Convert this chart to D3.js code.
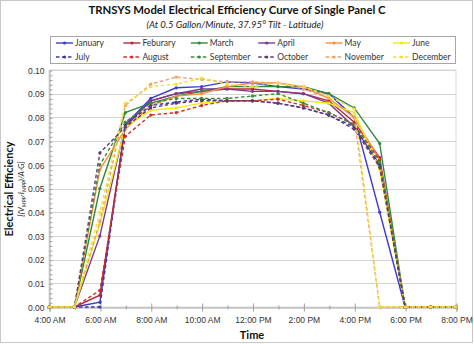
<!DOCTYPE html>
<html>
<head>
<meta charset="utf-8">
<script src="https://cdn.jsdelivr.net/npm/d3@7"></script>
<style>
  body { margin: 0; background: #fff; }
  svg { font-family: Lato, "Liberation Sans", sans-serif; }
</style>
</head>
<body>
<svg id="chart" width="474" height="344"></svg>
<script>
// hours of day, 4 AM .. 8 PM
const hours = [4, 5, 6, 7, 8, 9, 10, 11, 12, 13, 14, 15, 16, 17, 18, 19, 20];
const xTickHours = [4, 6, 8, 10, 12, 14, 16, 18, 20];
const xTickLabels = ["4:00 AM", "6:00 AM", "8:00 AM", "10:00 AM", "12:00 PM", "2:00 PM", "4:00 PM", "6:00 PM", "8:00 PM"];
const yTicks = [0, 0.01, 0.02, 0.03, 0.04, 0.05, 0.06, 0.07, 0.08, 0.09, 0.1];

const months = ["January", "Feburary", "March", "April", "May", "June",
  "July", "August", "September", "October", "November", "December"];

const january   = [0, 0, 0.002, 0.077, 0.088, 0.0925, 0.093, 0.095, 0.0945, 0.093, 0.092, 0.090, 0.080, 0.040, 0, 0, 0];
const feburary  = [0, 0, 0.005, 0.076, 0.087, 0.090, 0.091, 0.092, 0.092, 0.091, 0.090, 0.087, 0.078, 0.063, 0, 0, 0];
const march     = [0, 0, 0.050, 0.082, 0.086, 0.089, 0.091, 0.093, 0.093, 0.093, 0.093, 0.090, 0.084, 0.069, 0, 0, 0];
const april     = [0, 0, 0.030, 0.077, 0.087, 0.090, 0.092, 0.092, 0.091, 0.091, 0.090, 0.086, 0.076, 0.060, 0, 0, 0];
const may       = [0, 0, 0.058, 0.075, 0.085, 0.089, 0.090, 0.093, 0.0945, 0.0945, 0.093, 0.088, 0.080, 0.062, 0, 0, 0];
const june      = [0, 0, 0.035, 0.076, 0.083, 0.084, 0.086, 0.087, 0.087, 0.088, 0.087, 0.086, 0.082, 0.058, 0, 0, 0];
const july      = [0, 0, 0, 0.077, 0.085, 0.0865, 0.0877, 0.087, 0.087, 0.086, 0.084, 0.081, 0.076, 0.060, 0, 0, 0];
const august    = [0, 0, 0.007, 0.072, 0.081, 0.082, 0.085, 0.087, 0.087, 0.0877, 0.085, 0.082, 0.077, 0.062, 0, 0, 0];
const september = [0, 0, 0.060, 0.078, 0.086, 0.088, 0.088, 0.088, 0.089, 0.090, 0.086, 0.082, 0.077, 0.061, 0, 0, 0];
const october   = [0, 0, 0.065, 0.076, 0.084, 0.086, 0.087, 0.087, 0.087, 0.086, 0.084, 0.081, 0.075, 0.059, 0, 0, 0];
const november  = [0, 0, 0.036, 0.085, 0.094, 0.097, 0.096, 0.095, 0.095, 0.0945, 0.092, 0.088, 0.080, 0, 0, 0, 0];
const december  = [0, 0, 0.040, 0.086, 0.093, 0.094, 0.0966, 0.094, 0.093, 0.0945, 0.093, 0.089, 0.0835, 0, 0, 0, 0];

const values = [january, feburary, march, april, may, june,
  july, august, september, october, november, december];
const colors = ["#3b3bd0", "#b8283c", "#2e8b3e", "#7a3a94", "#f39040", "#f2ea10",
  "#3a3aa8", "#cc3030", "#3d8a3d", "#5e3a6e", "#f0a060", "#f0e040"];

const svg = d3.select("#chart");

// outer frame
svg.append("rect").attr("x", 0.5).attr("y", 0.5).attr("width", 472).attr("height", 342)
  .attr("fill", "#fff").attr("stroke", "#c8c8c8");

const x = d3.scaleLinear().domain([4, 20]).range([49, 456]);
const y = d3.scaleLinear().domain([0, 0.1]).range([307, 70]);

// plot area frame + grid
svg.append("rect").attr("x", 49).attr("y", 70).attr("width", 407).attr("height", 237)
  .attr("fill", "none").attr("stroke", "#d9d9d9");
svg.append("g").selectAll("line").data(yTicks.slice(1)).join("line")
  .attr("x1", 49).attr("x2", 456)
  .attr("y1", d => Math.round(y(d)) + 0.5).attr("y2", d => Math.round(y(d)) + 0.5)
  .attr("stroke", "#d4d4d4");

// y axis
const yAxis = svg.append("g").attr("transform", "translate(49.5,0.5)")
  .call(d3.axisLeft(y).tickValues(yTicks).tickFormat(d3.format(".2f")).tickSize(0).tickPadding(5));
yAxis.select(".domain").attr("stroke", "#a0a0a0");
yAxis.selectAll("text").attr("font-size", 8.5).attr("fill", "#333");
svg.append("g").attr("transform", "translate(49.5,0.5)")
  .call(d3.axisRight(y).tickValues(d3.range(0, 0.1001, 0.002)).tickFormat("").tickSize(3))
  .call(g => g.select(".domain").remove())
  .selectAll("line").attr("stroke", "#a0a0a0");

// x axis
const xAxis = svg.append("g").attr("transform", "translate(0.5,307.5)")
  .call(d3.axisBottom(x).tickValues(xTickHours)
    .tickFormat((d, i) => xTickLabels[i]).tickSize(4).tickPadding(5));
xAxis.select(".domain").attr("stroke", "#a0a0a0");
xAxis.selectAll("line").attr("stroke", "#a0a0a0").attr("y1", -4);
xAxis.selectAll("text").attr("font-size", 8.5).attr("fill", "#333");
svg.append("g").attr("transform", "translate(0.5,307.5)")
  .call(d3.axisBottom(x).tickValues(hours.filter(h => h % 2 === 1)).tickFormat("").tickSize(2))
  .call(g => g.select(".domain").remove())
  .selectAll("line").attr("stroke", "#a0a0a0").attr("y1", -2);

// series
const line = d3.line().x((d, i) => x(hours[i])).y(d => y(d));
values.forEach((vals, k) => {
  const g = svg.append("g");
  g.append("path").datum(vals).attr("d", line)
    .attr("fill", "none").attr("stroke", colors[k]).attr("stroke-width", 1.4)
    .attr("stroke-dasharray", k >= 6 ? "3.5,2.5" : null);
  g.selectAll("circle").data(vals).join("circle")
    .attr("cx", (d, i) => x(hours[i])).attr("cy", d => y(d)).attr("r", 1.6)
    .attr("fill", colors[k]);
});

// legend
svg.append("rect").attr("x", 50.5).attr("y", 36.5).attr("width", 405).attr("height", 27)
  .attr("fill", "#fff").attr("stroke", "#a6a6a6");
months.forEach((m, k) => {
  const col = k % 6, row = Math.floor(k / 6);
  const lx = 56 + col * 67.4, ly = 43 + row * 14;
  svg.append("line").attr("x1", lx).attr("x2", lx + 17).attr("y1", ly).attr("y2", ly)
    .attr("stroke", colors[k]).attr("stroke-width", 1.4)
    .attr("stroke-dasharray", row ? "3.5,2.5" : null);
  svg.append("circle").attr("cx", lx + 8.5).attr("cy", ly).attr("r", 1.6).attr("fill", colors[k]);
  svg.append("text").attr("x", lx + 19).attr("y", ly + 3).attr("font-size", 8.5)
    .attr("fill", "#333").text(m);
});

// titles
svg.append("text").attr("x", 237).attr("y", 13.5).attr("text-anchor", "middle")
  .attr("font-size", 12).attr("font-weight", "bold").attr("fill", "#111")
  .attr("textLength", 297).attr("lengthAdjust", "spacingAndGlyphs")
  .text("TRNSYS Model Electrical Efficiency Curve of Single Panel C");
svg.append("text").attr("x", 235).attr("y", 27.5).attr("text-anchor", "middle")
  .attr("font-size", 9.5).attr("font-style", "italic").attr("fill", "#222")
  .text("(At 0.5 Gallon/Minute, 37.95° Tilt - Latitude)");
svg.append("text").attr("x", 252).attr("y", 339).attr("text-anchor", "middle")
  .attr("font-size", 11).attr("font-weight", "bold").attr("fill", "#111").text("Time");

const yt = svg.append("g").attr("transform", "translate(13,189) rotate(-90)");
yt.append("text").attr("text-anchor", "middle").attr("y", 0)
  .attr("font-size", 11).attr("font-weight", "bold").attr("fill", "#111").text("Electrical Efficiency");
const sub = yt.append("text").attr("text-anchor", "middle").attr("y", 11)
  .attr("font-size", 8).attr("font-style", "italic").attr("fill", "#222");
sub.append("tspan").text("[(V");
sub.append("tspan").attr("font-size", 5.5).attr("dy", 2).text("MPP");
sub.append("tspan").attr("dy", -2).text("·I");
sub.append("tspan").attr("font-size", 5.5).attr("dy", 2).text("MPP");
sub.append("tspan").attr("dy", -2).text(")/A·G]");
</script>
</body>
</html>
